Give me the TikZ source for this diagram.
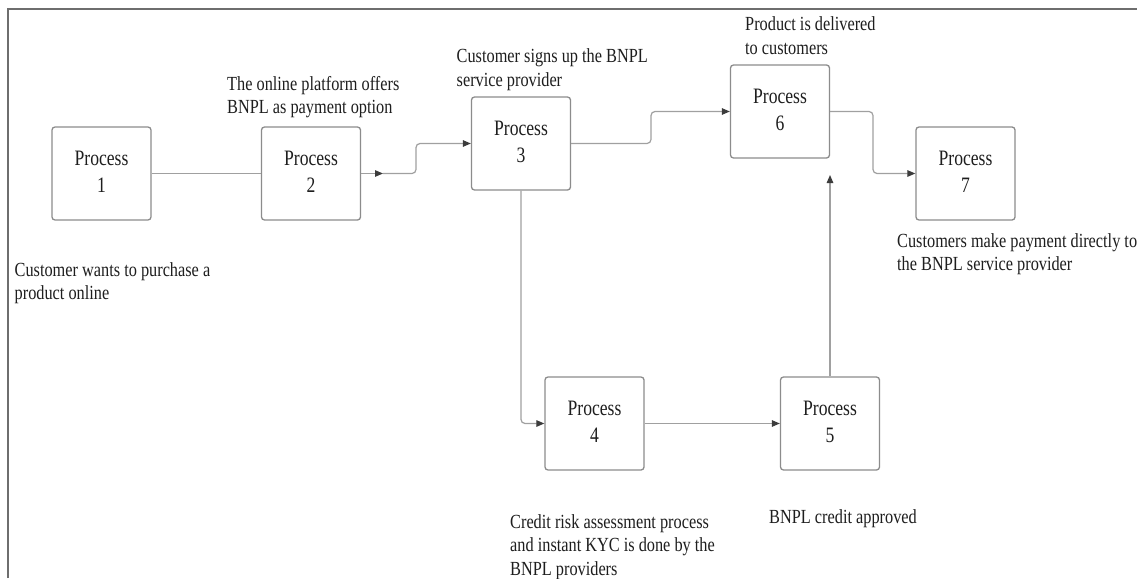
\documentclass[tikz,border=0pt]{standalone}
\usepackage{fontspec}
\setmainfont{Liberation Serif}
\usetikzlibrary{arrows.meta}
\definecolor{boxgray}{HTML}{8C8C8C}
\definecolor{linegray}{HTML}{A0A0A0}
\definecolor{framegray}{HTML}{6E6E6E}
\definecolor{tipgray}{HTML}{3C3C3C}
\definecolor{txt}{HTML}{1E1E1E}
\newcommand{\boxtxt}[1]{\scalebox{0.8}[1]{\begin{tabular}{@{}c@{}}Process\\#1\end{tabular}}}
\newcommand{\lbltxt}[1]{\scalebox{0.815}[1]{\begin{tabular}[t]{@{}l@{}}#1\end{tabular}}}
\begin{document}
\begin{tikzpicture}[x=1pt,y=-1pt,
  proc/.style={draw=boxgray, line width=1.3pt, rounded corners=3pt, minimum width=99pt, minimum height=93pt, inner sep=0pt, font=\fontsize{22}{26.5}\selectfont, text=txt},
  lbl/.style={anchor=base west, inner sep=0pt, font=\fontsize{20}{23.5}\selectfont, text=txt},
  conn/.style={draw=linegray, line width=1.2pt, rounded corners=4pt},
  arr/.style={conn, -{Triangle[length=8pt,width=6.5pt,color=tipgray]}}
]
\useasboundingbox (0,0) rectangle (1137,578);
\fill[white] (0,0) rectangle (1137,578);
% frame
\coordinate (f1) at (7.5,578);
\coordinate (f2) at (7.5,9);
\coordinate (f3) at (1137,9);
\draw[framegray, line width=2pt] (f1) -- (f2) -- (f3);
% boxes
\node[proc] (b1) at (101.5,173.5) {\boxtxt{1}};
\node[proc] (b2) at (311,173.5) {\boxtxt{2}};
\node[proc] (b3) at (521,143.5) {\boxtxt{3}};
\node[proc] (b4) at (594.5,423.5) {\boxtxt{4}};
\node[proc] (b5) at (830,423.5) {\boxtxt{5}};
\node[proc] (b6) at (780,111.5) {\boxtxt{6}};
\node[proc] (b7) at (965.5,173.5) {\boxtxt{7}};
% helper coordinates
\coordinate (m23) at (383,173.5);
\coordinate (k23) at (416,173.5);
\coordinate (k36) at (651,143.5);
\coordinate (k67) at (873,111.5);
\coordinate (e56) at (830,175);
% connectors
\draw[conn] (b1.east) -- (b2.west);
\draw[arr] (b2.east) -- (m23);
\draw[arr] (m23) -- (k23) |- (b3.west);
\draw[arr] (b3.east) -- (k36) |- (b6.west);
\draw[arr] (b6.east) -- (k67) |- (b7.west);
\draw[arr] (b3.south) |- (b4.west);
\draw[arr] (b4.east) -- (b5.west);
\draw[arr] (b5.north) -- (e56);
% labels
\node[lbl] (l1) at (14.5,276) {\lbltxt{Customer wants to purchase a\\product online}};
\node[lbl] (l2) at (227,90) {\lbltxt{The online platform offers\\BNPL as payment option}};
\node[lbl] (l3) at (456.5,63) {\lbltxt{Customer signs up the BNPL\\service provider}};
\node[lbl] (l4) at (510,528) {\lbltxt{Credit risk assessment process\\and instant KYC is done by the\\BNPL providers}};
\node[lbl] (l5) at (769,523) {\lbltxt{BNPL credit approved}};
\node[lbl] (l6) at (745,31) {\lbltxt{Product is delivered\\to customers}};
\node[lbl] (l7) at (897,247) {\lbltxt{Customers make payment directly to\\the BNPL service provider}};
\end{tikzpicture}
\end{document}
